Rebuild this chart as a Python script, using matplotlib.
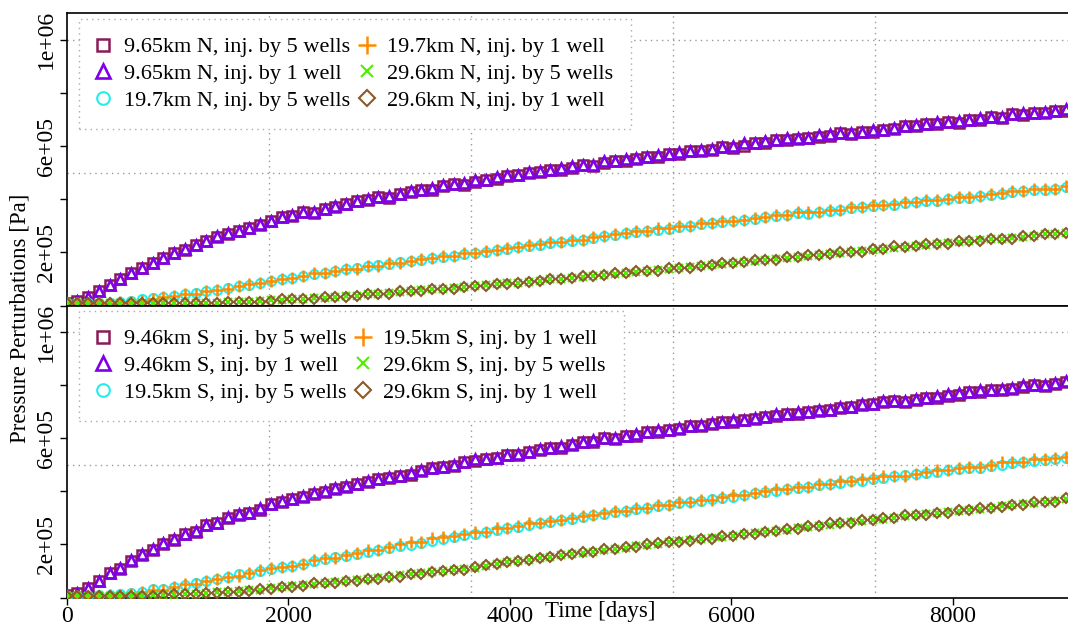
import numpy as np
import matplotlib
matplotlib.use('Agg')
import matplotlib.pyplot as plt

plt.rcParams['font.family'] = ['Liberation Serif', 'DejaVu Serif']
plt.rcParams['font.size'] = 16

# sampling of the simulation output (days), every 97 days
days = np.arange(94) * 97

# pressure perturbations, in units of 1e5 Pa
# --- north (top panel) ---
n965_5w = [0.10, 0.18, 0.33, 0.54, 0.76, 1.00, 1.21, 1.40, 1.59, 1.78,
           1.97, 2.10, 2.27, 2.41, 2.57, 2.70, 2.80, 2.90, 3.02, 3.17,
           3.33, 3.38, 3.51, 3.50, 3.64, 3.70, 3.84, 3.93, 3.98, 4.09,
           4.06, 4.20, 4.27, 4.33, 4.36, 4.49, 4.58, 4.55, 4.66, 4.73,
           4.76, 4.86, 4.92, 4.97, 5.03, 5.12, 5.12, 5.16, 5.28, 5.24,
           5.36, 5.44, 5.43, 5.50, 5.59, 5.58, 5.72, 5.71, 5.81, 5.82,
           5.85, 5.97, 5.94, 6.02, 6.12, 6.13, 6.22, 6.22, 6.25, 6.32,
           6.34, 6.38, 6.50, 6.45, 6.55, 6.53, 6.62, 6.63, 6.75, 6.74,
           6.82, 6.83, 6.91, 6.88, 7.00, 6.98, 7.10, 7.05, 7.20, 7.16,
           7.25, 7.24, 7.31, 7.33]
n965_1w = [0.10, 0.18, 0.33, 0.55, 0.77, 1.01, 1.23, 1.41, 1.61, 1.80,
           1.98, 2.13, 2.29, 2.43, 2.60, 2.72, 2.82, 2.93, 3.05, 3.20,
           3.34, 3.41, 3.51, 3.53, 3.64, 3.73, 3.84, 3.93, 4.02, 4.09,
           4.12, 4.20, 4.32, 4.33, 4.42, 4.53, 4.58, 4.60, 4.72, 4.73,
           4.82, 4.91, 4.92, 5.03, 5.08, 5.12, 5.19, 5.24, 5.28, 5.29,
           5.44, 5.44, 5.51, 5.56, 5.59, 5.65, 5.72, 5.77, 5.81, 5.87,
           5.91, 5.97, 6.00, 6.10, 6.12, 6.20, 6.22, 6.29, 6.31, 6.32,
           6.41, 6.44, 6.50, 6.51, 6.55, 6.60, 6.62, 6.70, 6.75, 6.80,
           6.82, 6.90, 6.91, 6.94, 7.00, 7.05, 7.10, 7.11, 7.20, 7.23,
           7.25, 7.30, 7.31, 7.39]
n197_5w = [0.10, 0.10, 0.10, 0.10, 0.10, 0.12, 0.16, 0.23, 0.27, 0.33,
           0.37, 0.44, 0.48, 0.55, 0.60, 0.66, 0.73, 0.79, 0.85, 0.92,
           0.99, 1.04, 1.11, 1.18, 1.23, 1.30, 1.36, 1.41, 1.47, 1.51,
           1.57, 1.62, 1.67, 1.73, 1.78, 1.84, 1.88, 1.94, 1.99, 2.02,
           2.08, 2.13, 2.19, 2.25, 2.29, 2.35, 2.38, 2.43, 2.48, 2.55,
           2.60, 2.66, 2.72, 2.77, 2.80, 2.86, 2.88, 2.96, 3.00, 3.06,
           3.10, 3.13, 3.19, 3.21, 3.27, 3.32, 3.36, 3.40, 3.47, 3.45,
           3.52, 3.57, 3.60, 3.66, 3.69, 3.74, 3.79, 3.80, 3.86, 3.89,
           3.94, 3.93, 4.00, 4.05, 4.03, 4.11, 4.16, 4.19, 4.26, 4.30,
           4.35, 4.33, 4.40, 4.47]
n197_1w = [0.10, 0.10, 0.10, 0.10, 0.10, 0.12, 0.13, 0.17, 0.24, 0.33,
           0.34, 0.44, 0.45, 0.55, 0.58, 0.63, 0.73, 0.81, 0.83, 0.93,
           1.01, 1.02, 1.12, 1.21, 1.22, 1.30, 1.38, 1.39, 1.48, 1.50,
           1.59, 1.61, 1.67, 1.76, 1.77, 1.85, 1.86, 1.96, 1.99, 2.04,
           2.08, 2.15, 2.20, 2.27, 2.31, 2.38, 2.40, 2.46, 2.48, 2.59,
           2.61, 2.71, 2.73, 2.80, 2.81, 2.90, 2.92, 2.99, 3.01, 3.09,
           3.11, 3.20, 3.20, 3.21, 3.30, 3.34, 3.40, 3.41, 3.52, 3.52,
           3.53, 3.59, 3.61, 3.69, 3.70, 3.78, 3.80, 3.81, 3.89, 3.90,
           3.97, 3.99, 4.00, 4.09, 4.10, 4.12, 4.18, 4.22, 4.30, 4.31,
           4.38, 4.39, 4.40, 4.49]
n296_5w = [0.10, 0.10, 0.10, 0.10, 0.10, 0.10, 0.10, 0.10, 0.10, 0.10,
           0.10, 0.10, 0.11, 0.11, 0.11, 0.12, 0.13, 0.14, 0.16, 0.19,
           0.21, 0.23, 0.25, 0.27, 0.30, 0.33, 0.35, 0.37, 0.42, 0.44,
           0.47, 0.52, 0.55, 0.58, 0.61, 0.64, 0.67, 0.70, 0.73, 0.76,
           0.80, 0.83, 0.86, 0.89, 0.92, 0.98, 1.00, 1.03, 1.09, 1.11,
           1.14, 1.19, 1.23, 1.28, 1.30, 1.33, 1.38, 1.41, 1.44, 1.49,
           1.52, 1.58, 1.61, 1.64, 1.69, 1.72, 1.75, 1.80, 1.83, 1.88,
           1.91, 1.94, 1.99, 2.01, 2.04, 2.09, 2.12, 2.18, 2.20, 2.23,
           2.29, 2.32, 2.35, 2.40, 2.42, 2.45, 2.49, 2.52, 2.55, 2.59,
           2.62, 2.68, 2.71, 2.74]
n296_1w = [0.10, 0.10, 0.10, 0.10, 0.10, 0.10, 0.10, 0.10, 0.10, 0.10,
           0.10, 0.10, 0.11, 0.11, 0.11, 0.12, 0.12, 0.13, 0.15, 0.18,
           0.23, 0.23, 0.24, 0.24, 0.31, 0.32, 0.32, 0.34, 0.43, 0.43,
           0.45, 0.55, 0.55, 0.56, 0.61, 0.64, 0.64, 0.71, 0.72, 0.74,
           0.80, 0.82, 0.84, 0.89, 0.91, 1.01, 1.00, 1.02, 1.12, 1.12,
           1.13, 1.21, 1.23, 1.30, 1.30, 1.31, 1.40, 1.40, 1.42, 1.50,
           1.52, 1.61, 1.61, 1.62, 1.71, 1.71, 1.73, 1.83, 1.83, 1.92,
           1.92, 1.93, 2.01, 2.01, 2.02, 2.11, 2.12, 2.24, 2.21, 2.24,
           2.31, 2.33, 2.33, 2.42, 2.42, 2.43, 2.50, 2.52, 2.52, 2.61,
           2.61, 2.71, 2.71, 2.73]

# --- south (bottom panel) ---
s946_5w = [0.09, 0.18, 0.35, 0.62, 0.91, 1.09, 1.39, 1.60, 1.79, 2.02,
           2.17, 2.39, 2.48, 2.72, 2.80, 3.01, 3.12, 3.17, 3.30, 3.52,
           3.60, 3.70, 3.80, 3.91, 3.98, 4.10, 4.17, 4.28, 4.35, 4.47,
           4.51, 4.58, 4.63, 4.78, 4.86, 4.92, 4.97, 5.10, 5.16, 5.23,
           5.24, 5.36, 5.37, 5.48, 5.54, 5.65, 5.63, 5.73, 5.86, 5.87,
           6.01, 5.96, 6.08, 6.10, 6.23, 6.24, 6.31, 6.35, 6.45, 6.46,
           6.53, 6.61, 6.62, 6.70, 6.72, 6.80, 6.84, 6.91, 6.93, 6.99,
           7.01, 7.08, 7.12, 7.18, 7.24, 7.30, 7.35, 7.40, 7.38, 7.43,
           7.52, 7.53, 7.60, 7.64, 7.73, 7.75, 7.81, 7.81, 7.85, 7.94,
           7.99, 7.96, 8.04, 8.10]
s946_1w = [0.09, 0.18, 0.35, 0.63, 0.93, 1.10, 1.41, 1.62, 1.81, 2.04,
           2.19, 2.41, 2.50, 2.75, 2.81, 3.04, 3.13, 3.20, 3.38, 3.53,
           3.62, 3.71, 3.82, 3.92, 4.00, 4.11, 4.20, 4.29, 4.38, 4.48,
           4.54, 4.59, 4.69, 4.79, 4.89, 4.92, 5.01, 5.11, 5.20, 5.23,
           5.27, 5.36, 5.42, 5.48, 5.59, 5.65, 5.69, 5.80, 5.86, 5.92,
           6.01, 6.02, 6.08, 6.17, 6.23, 6.30, 6.31, 6.40, 6.45, 6.51,
           6.59, 6.61, 6.67, 6.70, 6.77, 6.80, 6.90, 6.91, 6.98, 6.99,
           7.07, 7.08, 7.17, 7.18, 7.30, 7.30, 7.40, 7.40, 7.42, 7.49,
           7.52, 7.58, 7.65, 7.70, 7.73, 7.80, 7.81, 7.86, 7.90, 7.99,
           7.99, 8.00, 8.09, 8.14]
s195_5w = [0.07, 0.07, 0.07, 0.08, 0.10, 0.12, 0.16, 0.22, 0.31, 0.33,
           0.41, 0.48, 0.54, 0.61, 0.69, 0.76, 0.88, 0.90, 0.99, 1.07,
           1.14, 1.20, 1.28, 1.36, 1.44, 1.51, 1.58, 1.65, 1.73, 1.80,
           1.87, 1.94, 1.97, 2.07, 2.14, 2.21, 2.28, 2.34, 2.41, 2.47,
           2.54, 2.60, 2.66, 2.73, 2.79, 2.85, 2.91, 2.97, 3.03, 3.09,
           3.15, 3.21, 3.27, 3.33, 3.38, 3.44, 3.49, 3.55, 3.60, 3.65,
           3.71, 3.76, 3.78, 3.86, 3.92, 3.97, 4.02, 4.07, 4.12, 4.17,
           4.22, 4.27, 4.32, 4.37, 4.40, 4.46, 4.51, 4.56, 4.60, 4.65,
           4.70, 4.74, 4.79, 4.83, 4.88, 4.88, 4.96, 4.98, 5.05, 5.09,
           5.13, 5.18, 5.22, 5.26]
s195_1w = [0.07, 0.07, 0.07, 0.07, 0.08, 0.08, 0.12, 0.22, 0.28, 0.29,
           0.41, 0.50, 0.51, 0.62, 0.68, 0.78, 0.80, 0.91, 1.03, 1.10,
           1.16, 1.18, 1.28, 1.41, 1.47, 1.48, 1.60, 1.68, 1.79, 1.80,
           1.91, 2.01, 2.09, 2.10, 2.23, 2.29, 2.30, 2.41, 2.47, 2.48,
           2.60, 2.61, 2.70, 2.79, 2.80, 2.89, 2.91, 2.98, 3.08, 3.09,
           3.19, 3.26, 3.27, 3.38, 3.39, 3.48, 3.49, 3.58, 3.59, 3.67,
           3.68, 3.79, 3.85, 3.86, 3.95, 4.02, 4.08, 4.09, 4.17, 4.18,
           4.26, 4.27, 4.38, 4.39, 4.48, 4.49, 4.57, 4.58, 4.59, 4.67,
           4.73, 4.79, 4.80, 4.89, 4.90, 4.91, 5.01, 5.11, 5.12, 5.12,
           5.20, 5.21, 5.27, 5.28]
s296_5w = [0.06, 0.06, 0.06, 0.06, 0.06, 0.06, 0.06, 0.07, 0.08, 0.10,
           0.11, 0.13, 0.15, 0.17, 0.19, 0.21, 0.24, 0.27, 0.30, 0.34,
           0.38, 0.42, 0.46, 0.50, 0.54, 0.58, 0.62, 0.66, 0.70, 0.73,
           0.78, 0.83, 0.87, 0.91, 0.95, 0.99, 1.04, 1.08, 1.13, 1.20,
           1.26, 1.33, 1.37, 1.42, 1.48, 1.53, 1.59, 1.63, 1.69, 1.73,
           1.79, 1.83, 1.88, 1.93, 1.98, 2.03, 2.08, 2.12, 2.16, 2.20,
           2.24, 2.29, 2.33, 2.38, 2.42, 2.46, 2.51, 2.56, 2.61, 2.66,
           2.70, 2.75, 2.79, 2.84, 2.88, 2.92, 2.97, 3.01, 3.06, 3.10,
           3.13, 3.18, 3.22, 3.27, 3.31, 3.35, 3.39, 3.43, 3.48, 3.52,
           3.56, 3.60, 3.64, 3.70]
s296_1w = [0.06, 0.06, 0.06, 0.06, 0.06, 0.06, 0.06, 0.07, 0.07, 0.09,
           0.12, 0.13, 0.13, 0.16, 0.16, 0.22, 0.22, 0.24, 0.32, 0.32,
           0.41, 0.41, 0.44, 0.53, 0.53, 0.54, 0.63, 0.63, 0.70, 0.70,
           0.76, 0.79, 0.88, 0.88, 0.97, 0.99, 1.03, 1.05, 1.16, 1.22,
           1.28, 1.35, 1.36, 1.41, 1.50, 1.52, 1.61, 1.62, 1.72, 1.72,
           1.82, 1.82, 1.91, 1.91, 2.00, 2.04, 2.10, 2.10, 2.11, 2.20,
           2.21, 2.31, 2.31, 2.41, 2.41, 2.45, 2.51, 2.58, 2.59, 2.70,
           2.70, 2.79, 2.79, 2.82, 2.91, 2.91, 3.00, 3.00, 3.10, 3.10,
           3.11, 3.19, 3.19, 3.29, 3.29, 3.39, 3.39, 3.40, 3.50, 3.50,
           3.58, 3.58, 3.60, 3.73]

labels_n = ['9.65km N, inj. by 5 wells', '9.65km N, inj. by 1 well',
            '19.7km N, inj. by 5 wells', '19.7km N, inj. by 1 well',
            '29.6km N, inj. by 5 wells', '29.6km N, inj. by 1 well']
labels_s = ['9.46km S, inj. by 5 wells', '9.46km S, inj. by 1 well',
            '19.5km S, inj. by 5 wells', '19.5km S, inj. by 1 well',
            '29.6km S, inj. by 5 wells', '29.6km S, inj. by 1 well']

# marker, size, edge width, colour for each of the 6 series
styles = [('s', 6.5, 1.8, '#8b1a58'),
          ('^', 7.5, 1.9, '#7f00e6'),
          ('o', 6.5, 1.5, '#22eeee'),
          ('+', 9.0, 1.8, '#ff8c00'),
          ('x', 6.0, 1.5, '#4eee00'),
          ('D', 5.5, 1.5, '#8b5a2b')]

fig = plt.figure(figsize=(10.68, 6.25), dpi=100)
left = 66.7 / 1068
width = (1077.7 - 66.7) / 1068
ax1 = fig.add_axes([left, 0.5112, width, 0.4675])
ax2 = fig.add_axes([left, 0.0440, width, 0.4672])

panels = [(ax1, [n965_5w, n965_1w, n197_5w, n197_1w, n296_5w, n296_1w], labels_n, 0.9805),
          (ax2, [s946_5w, s946_1w, s195_5w, s195_1w, s296_5w, s296_1w], labels_s, 0.981)]

for ax, series, labs, ytop in panels:
    for vals, lab, (m, ms, mew, c) in zip(series, labs, styles):
        ax.plot(days, np.array(vals) * 1e5, linestyle='none', marker=m,
                markersize=ms, markeredgewidth=mew, markeredgecolor=c,
                markerfacecolor='none', color=c, label=lab, zorder=3)
    ax.set_xlim(0, 9125)
    ax.set_ylim(0, 1.1e6)
    # gnuplot style dotted grid
    for gx in [1825, 3650, 5475, 7300]:
        ax.axvline(gx, color='#999999', linestyle=(0, (1, 3)), lw=1.0, zorder=1)
    for gy in [5e5, 1e6]:
        ax.axhline(gy, color='#999999', linestyle=(0, (1, 3)), lw=1.0, zorder=1)
    ax.set_yticks([0, 2e5, 4e5, 6e5, 8e5, 1e6])
    ax.set_yticklabels(['', '2e+05', '', '6e+05', '', '1e+06'],
                       rotation=90, va='center')
    ax.tick_params(axis='y', direction='out', length=5, width=1, pad=2, labelsize=17)
    ax.spines['right'].set_visible(False)
    for sp in ['left', 'top', 'bottom']:
        ax.spines[sp].set_linewidth(1.2)
    leg = ax.legend(ncol=2, loc='upper left', bbox_to_anchor=(0.012, ytop),
                    borderaxespad=0, fontsize=16, numpoints=1, markerscale=1.4,
                    handlelength=0.62, handletextpad=0.6, columnspacing=0.45,
                    borderpad=0.8, labelspacing=0.28, fancybox=False,
                    framealpha=1, edgecolor='#aaaaaa')
    leg.get_frame().set_linestyle((0, (1, 3)))
    leg.get_frame().set_linewidth(1.0)
    leg.set_zorder(5)

ax1.tick_params(axis='x', bottom=False, labelbottom=False)
ax2.set_xticks([0, 2000, 4000, 6000, 8000])
ax2.tick_params(axis='x', direction='out', length=5, width=1, pad=1, labelsize=17)

fig.text(20 / 1068, 0.49, 'Pressure Perturbations [Pa]', rotation=90,
         ha='center', va='center', fontsize=16.5)
fig.text(600 / 1068, 1 - 612 / 625, 'Time [days]', ha='center', va='center',
         fontsize=16.5)

plt.savefig('out.png', dpi=100)
